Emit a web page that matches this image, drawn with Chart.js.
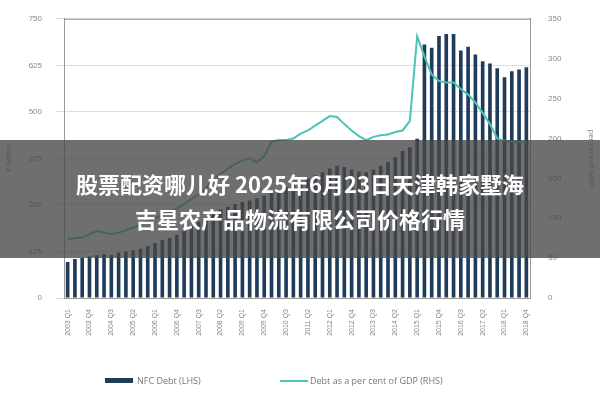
<!DOCTYPE html>
<html><head><meta charset="utf-8">
<script src="https://cdn.jsdelivr.net/npm/chart.js@4"></script>
<style>
body{margin:0;background:#fff;width:600px;height:400px;overflow:hidden;position:relative;font-family:"Open Sans",sans-serif}
#c{position:absolute;left:0;top:0}
#banner{position:absolute;left:0;top:140px;width:600px;height:118px;background:rgba(70,70,70,0.78);color:#fff;font-family:"Noto Sans CJK SC",sans-serif;font-weight:bold;font-size:22px;text-align:center;line-height:35px;padding-top:26px;box-sizing:border-box}
#legend{position:absolute;top:374px;left:0;width:600px;font-size:9px;color:#777}
.lg{position:absolute;top:0;display:flex;align-items:center}
</style></head><body>
<canvas id="c" width="600" height="400"></canvas>
<div id="legend">
<div class="lg" style="left:105px"><span style="display:inline-block;width:28px;height:5px;background:#1f3b5a;margin-right:4px"></span>NFC Debt (LHS)</div>
<div class="lg" style="left:280px"><span style="display:inline-block;width:28px;height:2px;background:#4cc3b9;margin-right:2px"></span>Debt as a per cent of GDP (RHS)</div>
</div>
<div id="banner">股票配资哪儿好 2025年6月23日天津韩家墅海<br>吉星农产品物流有限公司价格行情</div>
<script>
const years=[];for(let y=2003;y<=2018;y++)for(let q=1;q<=4;q++)years.push(y+' Q'+q);
const categories=years;
const nfcDebt=[97,105,108,112,115,118,116,122,125,128,132,140,148,155,162,170,180,192,205,215,228,238,245,252,258,262,268,275,282,290,298,305,312,320,330,338,348,355,352,345,340,338,345,355,365,378,395,405,428,681,672,704,709,709,665,675,654,636,630,617,593,609,614,620];
const debtPctGDP=[74,75,76,80,84,82,80,82,85,88,92,96,100,104,108,112,118,124,130,138,148,156,162,168,172,175,170,178,196,198,198,200,206,210,216,222,228,227,218,210,203,198,202,204,205,208,210,222,328,303,280,272,270,270,262,255,245,232,218,200,197,196,196,196];
const leftTicks=[0,125,250,375,500,625,750];
const rightTicks=[0,50,100,150,200,250,300,350];
const tc='#888';
const frame={id:'frame',afterDraw(c){const a=c.chartArea,x=c.ctx;x.save();x.strokeStyle='#999';x.lineWidth=1;x.beginPath();x.moveTo(a.left,a.top+0.5);x.lineTo(a.right,a.top+0.5);x.stroke();x.restore();}};
new Chart(document.getElementById('c'),{
 data:{labels:categories,datasets:[
  {type:'line',data:debtPctGDP,yAxisID:'y2',borderColor:'#4cc3b9',borderWidth:2,pointRadius:0,tension:0},
  {type:'bar',data:nfcDebt,yAxisID:'y',backgroundColor:'#1f3b5a',barPercentage:0.5,categoryPercentage:1}
 ]},
 plugins:[frame],
 options:{responsive:false,animation:false,
  layout:{padding:{top:14,bottom:54,left:0,right:0}},
  plugins:{legend:{display:false},tooltip:{enabled:false}},
  scales:{
   x:{grid:{display:false},border:{color:'#999'},afterFit:s=>{s.height=48},
      ticks:{color:tc,font:{size:7},maxRotation:90,minRotation:90,autoSkip:false,callback:(v,i)=>i%3===0?categories[i]:''}},
   y:{position:'left',min:0,max:750,afterFit:s=>{s.width=64},afterBuildTicks:a=>{a.ticks=leftTicks.map(v=>({value:v}))},
      grid:{color:'#ddd'},border:{color:'#999'},ticks:{color:tc,font:{size:8},padding:14},
      title:{display:true,text:'€ billion',color:tc,font:{size:8}}},
   y2:{position:'right',min:0,max:350,afterFit:s=>{s.width=70},afterBuildTicks:a=>{a.ticks=rightTicks.map(v=>({value:v}))},
      grid:{display:false},border:{color:'#999'},ticks:{color:tc,font:{size:8},padding:10},
      title:{display:true,text:'per cent of GDP',color:tc,font:{size:8}}}
  }}
});
</script></body></html>
